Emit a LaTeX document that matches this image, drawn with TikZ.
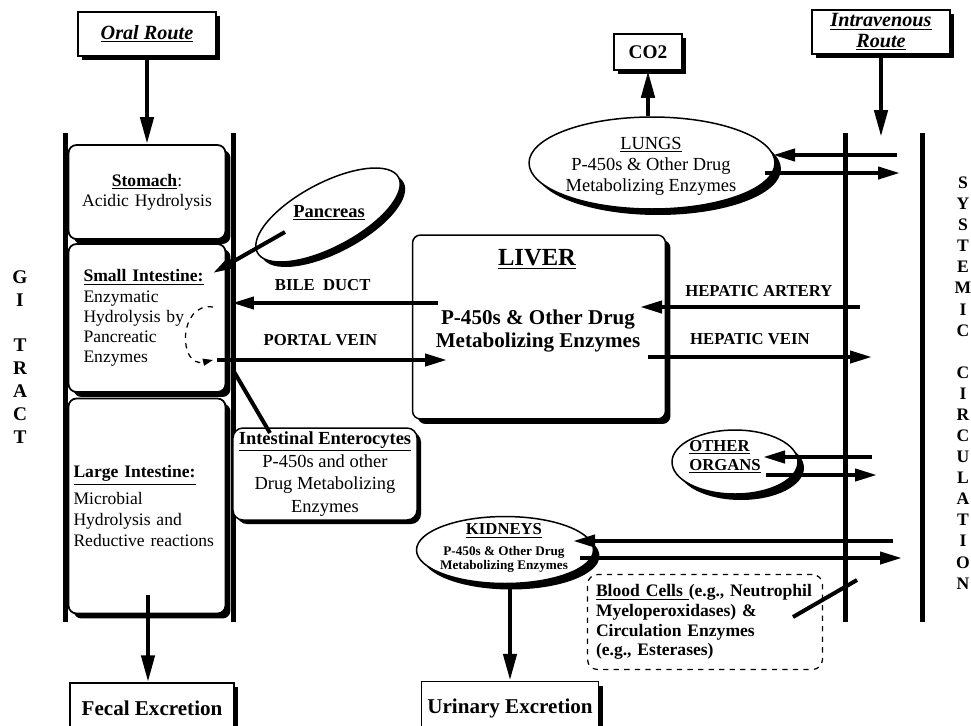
\documentclass[tikz,border=0pt]{standalone}
\usepackage{fontspec}
\setmainfont{Liberation Serif}
\usetikzlibrary{arrows.meta,shapes.geometric,shadows}

\begin{document}
\begin{tikzpicture}[x=0.02cm, y=-0.02cm,
	bigarrow/.style={line width=0.9mm, -{Triangle[length=5.4mm, width=2.6mm]}},
	flow/.style={line width=0.8mm, -{Triangle[length=4.4mm, width=2.4mm]}},
	wall/.style={line width=1mm},
	blackshadow/.style={drop shadow={shadow xshift=#1, shadow yshift=-#1, fill=black, opacity=1}},
	blackshadow/.default=0.8mm,
	route/.style={draw, line width=0.3mm, fill=white, blackshadow, inner sep=0.5pt, align=center, font=\bfseries\itshape\fontsize{11.5}{11.8}\selectfont},
	exitbox/.style={draw, line width=0.3mm, fill=white, blackshadow, font=\bfseries\fontsize{12}{14}\selectfont},
	gibox/.style={draw, rounded corners=1.6mm, line width=0.35mm, fill=white, blackshadow=1mm, minimum width=31.4mm, inner xsep=1mm, text width=29.4mm, font=\fontsize{10}{11.5}\selectfont},
	organ/.style={draw, ellipse, line width=0.3mm, fill=white, blackshadow=#1, inner sep=0pt},
	organ/.default=1.2mm,
	vessel/.style={font=\bfseries\fontsize{9.5}{11}\selectfont},
	loopdash/.style={line width=0.25mm, dashed, -{Triangle[length=2mm, width=1.4mm]}},
	tract/.style={font=\bfseries\fontsize{11}{13}\selectfont, align=center}]

	\useasboundingbox (0,0) rectangle (971,725);

	% walls of the GI tract and the systemic circulation
	\draw[wall] (65,133) -- (65,622);
	\draw[wall] (233,133) -- (233,622);
	\draw[wall] (845,133) -- (845,622);
	\draw[wall] (922,133) -- (922,622);

	\node[tract] (gitract) at (20,357) {G\\I\\[13pt]T\\R\\A\\C\\T};
	\node[tract, font=\bfseries\fontsize{10}{12}\selectfont] (systemic) at (963,383)
		{S\\Y\\S\\T\\E\\M\\I\\C\\[12pt]C\\I\\R\\C\\U\\L\\A\\T\\I\\O\\N};

	\node[route, minimum width=27.6mm, minimum height=8.8mm] (oral) at (147,34) {\underline{Oral Route}};
	\node[route, minimum width=27.6mm, minimum height=8.8mm] (iv) at (881,32) {\underline{Intravenous}\\\underline{Route}};
	\node[exitbox, minimum width=13.6mm, minimum height=7.2mm, font=\bfseries\fontsize{11}{13}\selectfont] (co2) at (648,52) {CO2};
	\node[exitbox, minimum width=32.8mm, minimum height=10mm] (fecal) at (152,708) {Fecal Excretion};
	\node[exitbox, minimum width=35.2mm, minimum height=10.6mm] (urinary) at (510,708) {Urinary Excretion};

	\node[gibox, align=center, minimum height=18.8mm] (stomach) at (147,192)
		{\underline{\textbf{Stomach}}:\\Acidic Hydrolysis};
	\node[gibox, align=left, minimum height=29.6mm, inner xsep=3mm, text width=25.4mm] (small) at (147,318)
		{\underline{\textbf{Small Intestine:}}\\Enzymatic\\Hydrolysis by\\Pancreatic\\Enzymes};
	\node[gibox, align=left, minimum height=43mm, font=\fontsize{10}{11.9}\selectfont] (large) at (147,506)
		{\underline{\textbf{Large Intestine:}}\\[1.2mm]Microbial\\Hydrolysis and\\Reductive reactions};

	\node[draw, rounded corners=1.6mm, line width=0.3mm, fill=white, blackshadow=1mm, minimum width=50.6mm, minimum height=36.8mm] (liver) at (539,327) {};
	\node[font=\bfseries\fontsize{14}{16}\selectfont] (livertitle) at (537,259) {\underline{LIVER}};
	\node[font=\bfseries\fontsize{12}{13}\selectfont, align=center] (liverenz) at (538,331) {P-450s \& Other Drug\\Metabolizing Enzymes};

	\node[draw, rounded corners=2mm, line width=0.3mm, fill=white, blackshadow, minimum width=33.2mm, minimum height=18.4mm, inner ysep=0.5mm, align=center, font=\fontsize{10.5}{13}\selectfont] (entero) at (325,474)
		{\underline{\textbf{Intestinal Enterocytes}}\\P-450s and other\\Drug Metabolizing\\Enzymes};

	\node[organ=1mm, rotate=28, minimum width=32mm, minimum height=12.8mm] (pancreas) at (328,215) {};
	\node[font=\bfseries\fontsize{10.5}{12}\selectfont] (panctext) at (329,213) {\underline{Pancreas}};

	\node[organ, minimum width=49.2mm, minimum height=18.4mm] (lungs) at (652,163) {};
	\node[font=\fontsize{10.5}{12}\selectfont, align=center] (lungtext) at (651,166) {\underline{LUNGS}\\P-450s \& Other Drug\\Metabolizing Enzymes};

	\node[organ, minimum width=25.2mm, minimum height=12.8mm] (organs) at (735,462) {};
	\node[font=\bfseries\fontsize{9.5}{10.8}\selectfont, align=left] (organtext) at (725,457) {\underline{OTHER}\\\underline{ORGANS}};

	\node[organ, minimum width=35.4mm, minimum height=13.4mm] (kidneys) at (505,550) {};
	\node[font=\bfseries\fontsize{7.5}{8}\selectfont, align=center] (kidneytext) at (504,548)
		{{\fontsize{9.5}{11}\selectfont\underline{KIDNEYS}}\\[1.5mm]P-450s \& Other Drug\\Metabolizing Enzymes};

	\node[draw, dashed, rounded corners=2mm, line width=0.25mm, inner xsep=1.7mm, text width=43.6mm, align=left, minimum height=19mm, font=\bfseries\fontsize{10}{11.3}\selectfont] (blood) at (705,622)
		{\underline{Blood Cells\ }(e.g., Neutrophil\\Myeloperoxidases) \&\\Circulation Enzymes\\(e.g., Esterases)};

	% connector ends
	\coordinate (lgout) at (148,595);
	\coordinate (ivin) at (881,137);
	\coordinate (pancfrom) at (285,232);
	\coordinate (pancto) at (213,273);
	\coordinate (loopfrom) at (213,307);
	\coordinate (loopto) at (213,360);
	\coordinate (bilefrom) at (438,303);
	\coordinate (bileto) at (232,303);
	\coordinate (portalfrom) at (217,360);
	\coordinate (portalto) at (447,360);
	\coordinate (enterofrom) at (233,370);
	\coordinate (enteroto) at (270,433);
	\coordinate (arteryfrom) at (860,307);
	\coordinate (arteryto) at (640,307);
	\coordinate (veinfrom) at (648,357);
	\coordinate (veinto) at (872,357);
	\coordinate (lungin) at (897,155);
	\coordinate (lungend) at (773,155);
	\coordinate (lungstart) at (765,173);
	\coordinate (lungout) at (900,173);
	\coordinate (organin) at (872,457);
	\coordinate (organend) at (763,457);
	\coordinate (organstart) at (766,475);
	\coordinate (organout) at (877,475);
	\coordinate (kidneyin) at (893,541);
	\coordinate (kidneyend) at (573,541);
	\coordinate (kidneystart) at (580,558);
	\coordinate (kidneyout) at (902,558);
	\coordinate (bloodfrom) at (793,617);
	\coordinate (bloodto) at (857,580);

	\draw[bigarrow] (oral) -- (stomach);
	\draw[bigarrow] (lgout) -- (lgout |- fecal.north);
	\draw[bigarrow] (iv) -- (ivin);
	\draw[bigarrow] (lungs.north -| co2) -- (co2);
	\draw[bigarrow] (kidneys.south -| urinary) -- (urinary);

	\draw[flow] (pancfrom) -- (pancto);
	\draw[loopdash] (loopfrom) .. controls (178,302) and (178,368) .. (loopto);
	\draw[flow] (bilefrom) -- node[vessel, above=0.8mm, pos=0.56] (bilelabel) {BILE\ \ DUCT} (bileto);
	\draw[flow] (portalfrom) -- node[vessel, above=1.2mm, pos=0.45] (portallabel) {PORTAL VEIN} (portalto);
	\draw[line width=0.8mm] (enterofrom) -- (enteroto);
	\draw[flow] (arteryfrom) -- node[vessel, above=0.4mm, pos=0.46] (arterylabel) {HEPATIC ARTERY} (arteryto);
	\draw[flow] (veinfrom) -- node[vessel, above=0.8mm, pos=0.455] (veinlabel) {HEPATIC VEIN} (veinto);

	\draw[flow] (lungin) -- (lungend);
	\draw[flow] (lungstart) -- (lungout);
	\draw[flow] (organin) -- (organend);
	\draw[flow] (organstart) -- (organout);
	\draw[flow] (kidneyin) -- (kidneyend);
	\draw[flow] (kidneystart) -- (kidneyout);
	\draw[line width=0.8mm] (bloodfrom) -- (bloodto);
\end{tikzpicture}
\end{document}
